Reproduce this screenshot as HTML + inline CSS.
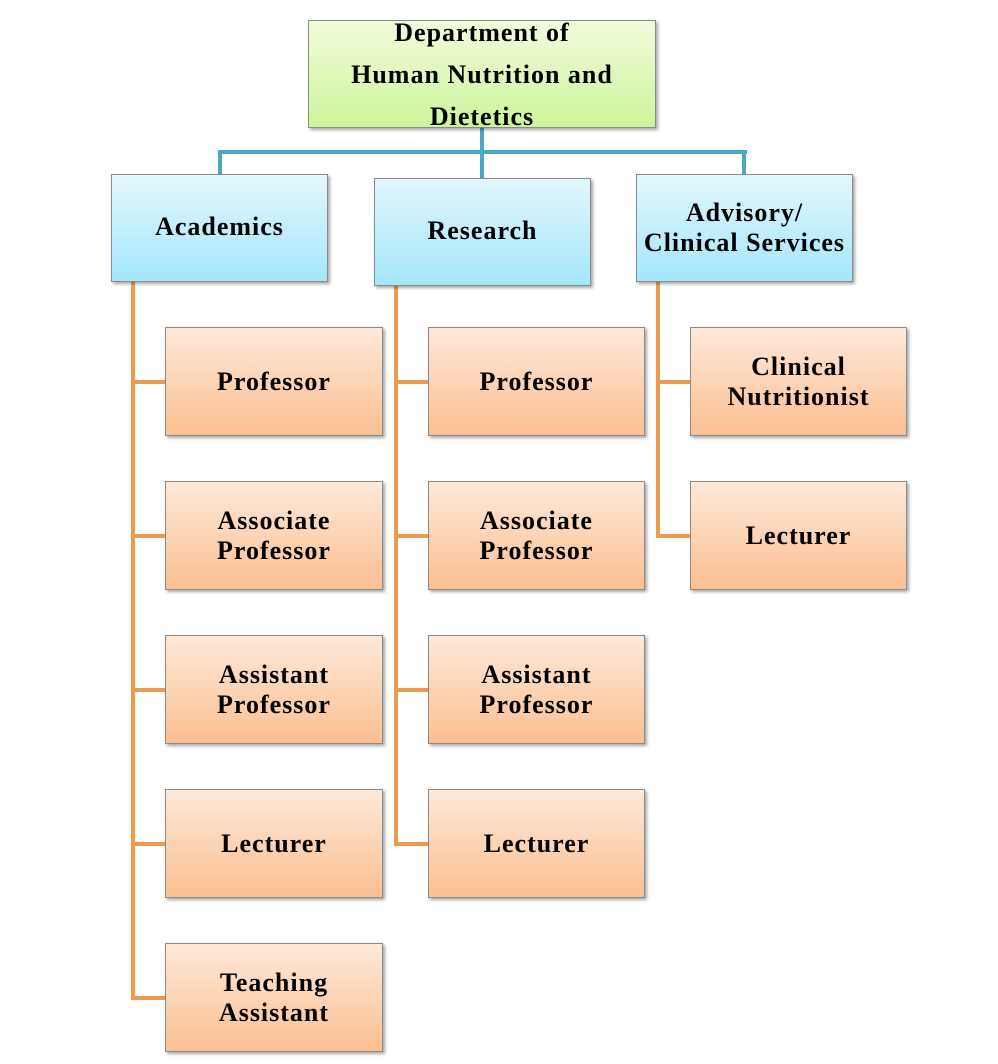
<!DOCTYPE html>
<html><head><style>
body{margin:0;width:998px;height:1064px;background:#fff;position:relative;overflow:hidden;font-family:"Liberation Serif","Times New Roman",serif;font-weight:bold;}
.b{position:absolute;box-sizing:border-box;border:1px solid #8a8a8a;box-shadow:2px 2px 3px rgba(0,0,0,0.35);display:flex;align-items:center;justify-content:center;text-align:center;font-size:26px;letter-spacing:1px;line-height:30px;color:#000;}
.g{background:linear-gradient(#f2fbdc,#cdf59a);}
.c{background:linear-gradient(#e3f7fd,#a4e6fb);}
.o{background:linear-gradient(#fde9da,#fcbf90);}
.l{position:absolute;}
.bl{background:#4aa8c4;}
.or{background:#ee9a4e;}
</style></head><body>
<div class="l bl" style="left:218px;top:150px;width:529px;height:4px"></div>
<div class="l bl" style="left:480px;top:128px;width:4px;height:50px"></div>
<div class="l bl" style="left:218px;top:150px;width:4px;height:26px"></div>
<div class="l bl" style="left:742px;top:150px;width:4px;height:26px"></div>

<div class="l or" style="left:131px;top:282px;width:4px;height:718px"></div>
<div class="l or" style="left:394px;top:286px;width:4px;height:560px"></div>
<div class="l or" style="left:656px;top:282px;width:4px;height:256px"></div>

<div class="l or" style="left:131px;top:380px;width:36px;height:4px"></div>
<div class="l or" style="left:131px;top:534px;width:36px;height:4px"></div>
<div class="l or" style="left:131px;top:688px;width:36px;height:4px"></div>
<div class="l or" style="left:131px;top:842px;width:36px;height:4px"></div>
<div class="l or" style="left:131px;top:996px;width:36px;height:4px"></div>
<div class="l or" style="left:394px;top:380px;width:36px;height:4px"></div>
<div class="l or" style="left:394px;top:534px;width:36px;height:4px"></div>
<div class="l or" style="left:394px;top:688px;width:36px;height:4px"></div>
<div class="l or" style="left:394px;top:842px;width:36px;height:4px"></div>
<div class="l or" style="left:656px;top:380px;width:36px;height:4px"></div>
<div class="l or" style="left:656px;top:534px;width:36px;height:4px"></div>

<div class="b g" style="left:308px;top:20px;width:348px;height:108px;line-height:42px;align-items:flex-start;"><div style="margin-top:-9px">Department of<br>Human Nutrition and<br>Dietetics</div></div>
<div class="b c" style="left:111px;top:174px;width:217px;height:108px"><div style="margin-top:-2px">Academics</div></div>
<div class="b c" style="left:374px;top:178px;width:217px;height:108px"><div style="margin-top:-2px">Research</div></div>
<div class="b c" style="left:636px;top:174px;width:217px;height:108px">Advisory/<br>Clinical Services</div>

<div class="b o" style="left:165px;top:327px;width:218px;height:109px">Professor</div>
<div class="b o" style="left:165px;top:481px;width:218px;height:109px">Associate<br>Professor</div>
<div class="b o" style="left:165px;top:635px;width:218px;height:109px">Assistant<br>Professor</div>
<div class="b o" style="left:165px;top:789px;width:218px;height:109px">Lecturer</div>
<div class="b o" style="left:165px;top:943px;width:218px;height:109px">Teaching<br>Assistant</div>

<div class="b o" style="left:428px;top:327px;width:217px;height:109px">Professor</div>
<div class="b o" style="left:428px;top:481px;width:217px;height:109px">Associate<br>Professor</div>
<div class="b o" style="left:428px;top:635px;width:217px;height:109px">Assistant<br>Professor</div>
<div class="b o" style="left:428px;top:789px;width:217px;height:109px">Lecturer</div>

<div class="b o" style="left:690px;top:327px;width:217px;height:109px">Clinical<br>Nutritionist</div>
<div class="b o" style="left:690px;top:481px;width:217px;height:109px">Lecturer</div>
</body></html>
